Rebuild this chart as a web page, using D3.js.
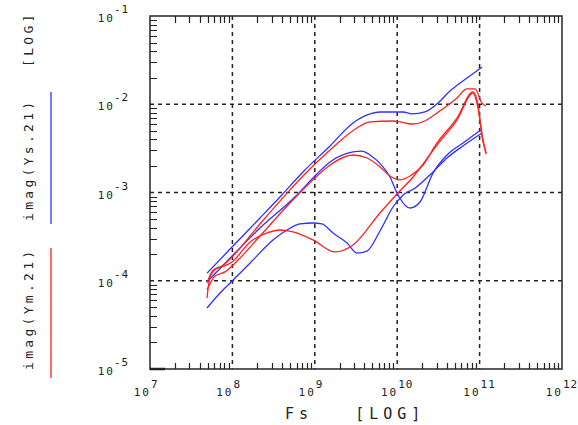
<!DOCTYPE html>
<html>
<head>
<meta charset="utf-8">
<script src="https://cdn.jsdelivr.net/npm/d3@7"></script>
<style>
  body { margin: 0; background: #fff; }
  svg text { font-family: "DejaVu Sans Mono", "Liberation Mono", monospace; fill: #222; }
</style>
</head>
<body>
<div id="chart"></div>
<script>
// decade ticks
const xDecades = [7, 8, 9, 10, 11, 12]
const yDecades = [-5, -4, -3, -2, -1]
const minorMult = [2, 3, 4, 5, 6, 7, 8, 9]

// imag(Ys.21) traces (blue)
const ysTopF = [4.92e7, 9.89e7, 2.16e8, 3.78e8, 7.19e8, 1.53e9, 2.91e9, 4.68e9, 6.18e9, 1.18e10, 1.51e10, 2.17e10, 3.04e10, 4.37e10, 7.03e10, 1.07e11]
const ysTopM = [1.22e-4, 2.41e-4, 5.14e-4, 8.90e-4, 1.71e-3, 3.37e-3, 6.13e-3, 7.76e-3, 8.17e-3, 8.17e-3, 7.76e-3, 8.17e-3, 1.01e-2, 1.41e-2, 1.98e-2, 2.64e-2]

const ysMidF = [4.92e7, 1.02e8, 2.16e8, 6.08e8, 9.51e8, 1.53e9, 2.91e9, 3.74e9, 4.68e9, 6.73e9, 8.18e9, 9.95e9, 1.43e10, 1.89e10, 2.72e10, 4.02e10, 6.29e10, 1.07e11]
const ysMidM = [9.68e-5, 1.96e-4, 3.96e-4, 9.37e-4, 1.46e-3, 2.22e-3, 2.88e-3, 2.95e-3, 2.66e-3, 1.95e-3, 1.50e-3, 9.87e-4, 6.67e-4, 7.80e-4, 1.66e-3, 2.66e-3, 3.64e-3, 5.24e-3]

const ysLowF = [4.92e7, 7.07e7, 1.02e8, 1.64e8, 3.11e8, 4.60e8, 6.61e8, 9.51e8, 1.22e9, 1.66e9, 2.46e9, 3.25e9, 4.30e9, 6.18e9, 8.89e9, 1.18e10, 1.64e10, 2.72e10, 4.02e10, 6.29e10, 1.07e11]
const ysLowM = [4.91e-5, 7.26e-5, 1.02e-4, 1.59e-4, 2.90e-4, 3.76e-4, 4.40e-4, 4.51e-4, 4.40e-4, 3.48e-4, 2.68e-4, 2.06e-4, 2.17e-4, 3.66e-4, 6.85e-4, 9.37e-4, 1.12e-3, 1.71e-3, 2.46e-3, 3.37e-3, 4.72e-3]

// imag(Ym.21) traces (red)
const ymTopF = [4.92e7, 5.82e7, 7.48e7, 9.89e7, 2.16e8, 5.00e8, 7.19e8, 1.53e9, 3.25e9, 4.68e9, 8.89e9, 1.08e10, 1.51e10, 2.17e10, 3.04e10, 5.32e10, 7.03e10, 8.80e10, 1.07e11, 1.20e11]
const ymTopM = [9.44e-5, 1.32e-4, 1.47e-4, 1.86e-4, 4.40e-4, 1.07e-3, 1.54e-3, 3.03e-3, 5.38e-3, 6.30e-3, 6.46e-3, 6.30e-3, 5.97e-3, 6.46e-3, 7.96e-3, 1.18e-2, 1.49e-2, 1.49e-2, 1.03e-2, 9.55e-3]

const ymMidF = [4.92e7, 6.15e7, 8.13e7, 1.24e8, 2.16e8, 5.00e8, 9.51e8, 1.53e9, 2.91e9, 4.30e9, 6.18e9, 8.18e9, 1.08e10, 1.43e10, 2.06e10, 3.04e10, 5.32e10, 8.32e10, 9.57e10, 1.07e11, 1.20e11]
const ymMidM = [7.85e-5, 1.13e-4, 1.26e-4, 1.81e-4, 3.21e-4, 7.60e-4, 1.39e-3, 2.05e-3, 2.66e-3, 2.46e-3, 1.95e-3, 1.54e-3, 1.39e-3, 1.54e-3, 2.05e-3, 3.64e-3, 6.98e-3, 1.38e-2, 9.81e-3, 4.26e-3, 2.80e-3]

const ymLowF = [4.92e7, 5.35e7, 6.50e7, 8.60e7, 9.89e7, 1.64e8, 2.63e8, 3.78e8, 5.44e8, 9.51e8, 1.76e9, 2.91e9, 6.18e9, 1.02e10, 1.56e10, 3.04e10, 5.32e10, 8.32e10, 9.57e10, 1.10e11, 1.20e11]
const ymLowM = [6.38e-5, 1.10e-4, 1.39e-4, 1.51e-4, 1.63e-4, 2.75e-4, 3.48e-4, 3.76e-4, 3.57e-4, 2.90e-4, 2.12e-4, 2.54e-4, 5.86e-4, 9.87e-4, 1.50e-3, 3.45e-3, 6.63e-3, 1.34e-2, 9.07e-3, 3.94e-3, 2.73e-3]

const BLUE = "#2f2fff", RED = "#ff2020"

const traces = [
    { f: ysTopF, m: ysTopM, color: BLUE },
    { f: ysMidF, m: ysMidM, color: BLUE },
    { f: ysLowF, m: ysLowM, color: BLUE },
    { f: ymTopF, m: ymTopM, color: RED },
    { f: ymMidF, m: ymMidM, color: RED },
    { f: ymLowF, m: ymLowM, color: RED }
]

const W = 578, H = 425
const PLOT = { left: 150, right: 562, top: 16, bottom: 369 }

const svg = d3.select("#chart").append("svg").attr("width", W).attr("height", H)

const x = d3.scaleLog().domain([1e7, 1e12]).range([PLOT.left, PLOT.right])
const y = d3.scaleLog().domain([1e-5, 1e-1]).range([PLOT.bottom, PLOT.top])

// minor tick values (2..9 in every decade)
const minorX = d3.merge(xDecades.slice(0, -1).map(d => minorMult.map(k => k * Math.pow(10, d))))
const minorY = d3.merge(yDecades.slice(0, -1).map(d => minorMult.map(k => k * Math.pow(10, d))))

// dashed grid at the decades
svg.append("g").selectAll("line")
    .data(xDecades.slice(1, -1))
    .join("line")
    .attr("x1", d => x(Math.pow(10, d))).attr("x2", d => x(Math.pow(10, d)))
    .attr("y1", PLOT.top).attr("y2", PLOT.bottom)
    .attr("stroke", "#222").attr("stroke-width", 1.5).attr("stroke-dasharray", "4,4")

svg.append("g").selectAll("line")
    .data(yDecades.slice(1, -1))
    .join("line")
    .attr("y1", d => y(Math.pow(10, d))).attr("y2", d => y(Math.pow(10, d)))
    .attr("x1", PLOT.left).attr("x2", PLOT.right)
    .attr("stroke", "#222").attr("stroke-width", 1.5).attr("stroke-dasharray", "4,4")

// traces
const traceLine = d3.line()
    .x(d => x(d[0]))
    .y(d => y(d[1]))
    .curve(d3.curveMonotoneX)

svg.append("g").selectAll("path")
    .data(traces)
    .join("path")
    .attr("d", t => traceLine(t.f.map((f, i) => [f, t.m[i]])))
    .attr("fill", "none")
    .attr("stroke", t => t.color)
    .attr("stroke-width", 1.3)

// frame
svg.append("rect").attr("x", PLOT.left).attr("y", PLOT.top)
    .attr("width", PLOT.right - PLOT.left).attr("height", PLOT.bottom - PLOT.top)
    .attr("fill", "none").attr("stroke", "#333").attr("stroke-width", 1.6)

// inside minor ticks as one path: top, bottom and left edges
const tickPath = d3.path()
minorX.forEach(v => {
    const px = Math.round(x(v)) + 0.5
    tickPath.moveTo(px, PLOT.top); tickPath.lineTo(px, PLOT.top + 7)
    tickPath.moveTo(px, PLOT.bottom); tickPath.lineTo(px, PLOT.bottom - 6)
})
minorY.forEach(v => {
    const py = Math.round(y(v)) + 0.5
    tickPath.moveTo(PLOT.left, py); tickPath.lineTo(PLOT.left + 7, py)
})
svg.append("path")
    .attr("d", tickPath.toString())
    .attr("fill", "none")
    .attr("stroke", "#222")
    .attr("stroke-width", 1.2)

// heavier stub at the bottom-left decade
svg.append("line")
    .attr("x1", PLOT.left).attr("x2", PLOT.left + 15)
    .attr("y1", y(1e-5)).attr("y2", y(1e-5))
    .attr("stroke", "#222").attr("stroke-width", 2.5)

// y tick labels
svg.append("g").selectAll("text").data(yDecades).join("text")
    .attr("x", 115)
    .attr("y", d => y(Math.pow(10, d)) + 6)
    .attr("text-anchor", "end")
    .style("font-size", "11px")
    .style("letter-spacing", "2px")
    .text("10")
svg.append("g").selectAll("text").data(yDecades).join("text")
    .attr("x", 114)
    .attr("y", d => y(Math.pow(10, d)) - 3)
    .style("font-size", "11px")
    .style("letter-spacing", "1px")
    .text(d => d)

// x tick labels
svg.append("g").selectAll("text").data(xDecades).join("text")
    .attr("x", d => x(Math.pow(10, d)) + 1)
    .attr("y", 396)
    .attr("text-anchor", "end")
    .style("font-size", "11px")
    .style("letter-spacing", "2px")
    .text("10")
svg.append("g").selectAll("text").data(xDecades).join("text")
    .attr("x", d => x(Math.pow(10, d)) + 1)
    .attr("y", 388)
    .style("font-size", "11px")
    .style("letter-spacing", "1px")
    .text(d => d)

// x axis title
svg.append("text")
    .attr("x", 285).attr("y", 419)
    .style("font-size", "15px")
    .style("letter-spacing", "5px")
    .style("white-space", "pre")
    .text("Fs   [LOG]")

// rotated y legend with coloured keys
const legend = [
    { label: "imag(Ym.21)", y0: 370, key: [248, 378], color: RED },
    { label: "imag(Ys.21)", y0: 221, key: [92, 224], color: BLUE },
    { label: "[LOG]", y0: 67, key: null, color: null }
]
legend.forEach(l => {
    svg.append("text")
        .attr("transform", `translate(33,${l.y0}) rotate(-90)`)
        .style("font-size", "13px")
        .style("letter-spacing", "3.3px")
        .text(l.label)
    if (l.key) {
        svg.append("line")
            .attr("x1", 51).attr("x2", 51)
            .attr("y1", l.key[0]).attr("y2", l.key[1])
            .attr("stroke", l.color).attr("stroke-width", 1.3)
    }
})
</script>
</body>
</html>
